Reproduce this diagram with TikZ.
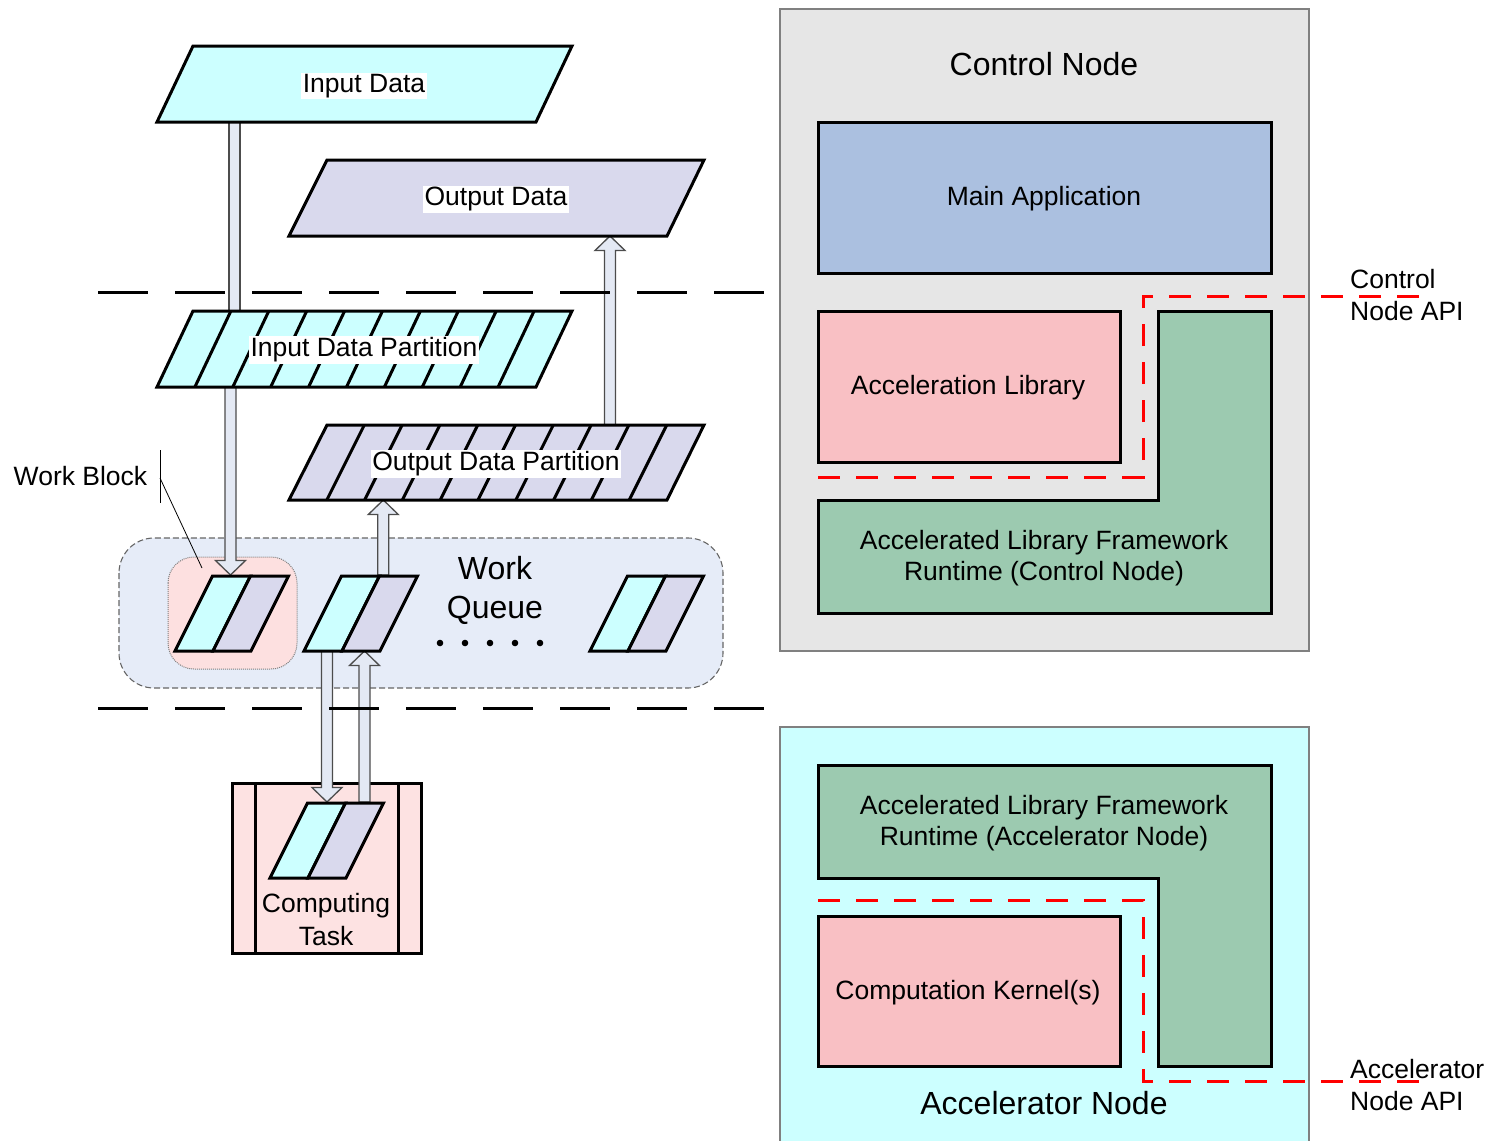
\documentclass[tikz,border=0pt]{standalone}
\usepackage{fontspec}
\setmainfont{Liberation Sans}
\usetikzlibrary{calc}

\definecolor{datacyan}{HTML}{CCFFFF}
\definecolor{datalav}{HTML}{D9D9ED}
\definecolor{queuebg}{HTML}{E6ECF8}
\definecolor{blockpink}{HTML}{FDE0E0}
\definecolor{taskpink}{HTML}{FDE2E2}
\definecolor{ctrlgray}{HTML}{E6E6E6}
\definecolor{appblue}{HTML}{ABC0E0}
\definecolor{libpink}{HTML}{F9C0C4}
\definecolor{rtgreen}{HTML}{9CCAB0}
\definecolor{accelcyan}{HTML}{CCFFFF}
\definecolor{arrowfill}{HTML}{E4E9F4}

\newcommand\normalfnt{\fontsize{26.5}{31}\selectfont}
\newcommand\largefnt{\fontsize{32}{39}\selectfont}

% hollow block arrow between two vertically aligned points
\newcommand\hollowarrow[2]{%
  \filldraw[hollowarr] let \p1=(#1), \p2=(#2), \n1={sign(\y2-\y1)} in
    (\x1-5.5pt,\y1) -- (\x1-5.5pt,\y2-\n1*14.5pt) -- (\x1-15pt,\y2-\n1*14.5pt)
    -- (\x1,\y2) -- (\x1+15pt,\y2-\n1*14.5pt) -- (\x1+5.5pt,\y2-\n1*14.5pt)
    -- (\x1+5.5pt,\y1) -- cycle;}

\tikzset{
  slabline/.style={line width=3pt, line join=miter, draw=black},
  datalabel/.style={fill=white, inner sep=1.5pt, font=\normalfnt},
  plaintext/.style={inner sep=0pt, font=\normalfnt, align=center},
  bigtext/.style={inner sep=0pt, font=\largefnt, align=center},
  hollowarr/.style={fill=arrowfill, draw=black!70, line width=1.3pt, line join=miter},
  layerline/.style={line width=3pt, dash pattern=on 50pt off 27pt},
  apiline/.style={draw=red, line width=3pt, dash pattern=on 22pt off 16pt},
  outerbox/.style={draw=black!50, line width=1.3pt},
  innerbox/.style={draw=black, line width=3pt, line join=miter},
  pics/workitem/.style={code={
    \filldraw[slabline, fill=datacyan] (0,0) -- (38,0) -- (75.5,-75) -- (37.5,-75) -- cycle;
    \filldraw[slabline, fill=datalav] (38,0) -- (76,0) -- (113.5,-75) -- (75.5,-75) -- cycle;
  }},
}

\begin{document}
\begin{tikzpicture}[x=1pt, y=-1pt]
\useasboundingbox (0,0) rectangle (1492,1141);

% ---------------- data flow side ----------------
% work queue and highlighted work block
\draw[draw=black!60, line width=1.1pt, dash pattern=on 6pt off 3pt, fill=queuebg, rounded corners=35pt]
  (119,538) rectangle (723,688);
\draw[draw=black!50, line width=1pt, densely dotted, fill=blockpink, rounded corners=26pt]
  (168,557) rectangle (297,669);

% computing task
\draw[innerbox, fill=taskpink] (232,783) rectangle (421,953);
\draw[line width=3pt] (255,783) -- (255,953) (398,783) -- (398,953);
\node[plaintext, font=\fontsize{26.5}{33}\selectfont] (task) at (326,920) {Computing\\Task};

% anchor points of the transfers
\coordinate (indataS) at (234.5,122);
\coordinate (inpartN) at (234.5,311);
\coordinate (inpartS) at (230.5,387);
\coordinate (blockN)  at (230.5,575);
\coordinate (itemN)   at (383.3,575);
\coordinate (outpartS) at (383.3,500);
\coordinate (outpartN) at (610,425);
\coordinate (outdataS) at (610,236);
\coordinate (itemSa)  at (327,651);
\coordinate (taskNa)  at (327,802);
\coordinate (taskNb)  at (364.5,802);
\coordinate (itemSb)  at (364.5,651);

\filldraw[hollowarr] ($(indataS)+(-5.5,0)$) rectangle ($(inpartN)+(5.5,0)$);
\hollowarrow{inpartS}{blockN}
\hollowarrow{itemN}{outpartS}
\hollowarrow{outpartN}{outdataS}
\hollowarrow{itemSa}{taskNa}
\hollowarrow{taskNb}{itemSb}

% input / output data
\filldraw[slabline, fill=datacyan] (157,122) -- (536,122) -- (572,46) -- (193,46) -- cycle;
\node[datalabel] (indata) at (364,86) {Input Data};
\filldraw[slabline, fill=datalav] (289,236) -- (667,236) -- (704,160) -- (327,160) -- cycle;
\node[datalabel] (outdata) at (496,199) {Output Data};

% partitions
\filldraw[slabline, fill=datacyan] (157,387) -- (536,387) -- (572,311) -- (193,311) -- cycle;
\foreach \i in {1,...,9} \draw[slabline] ({157+\i*37.9},387) -- ++(36,-76);
\node[datalabel] (inpart) at (364,350) {Input Data Partition};
\filldraw[slabline, fill=datalav] (289,500) -- (667,500) -- (704,425) -- (327,425) -- cycle;
\foreach \i in {1,...,9} \draw[slabline] ({289+\i*37.8},500) -- ++(37.5,-75);
\node[datalabel] (outpart) at (496,464) {Output Data Partition};

% work items
\pic (wi1) at (175,651) {workitem};
\pic (wi2) at (304,651) {workitem};
\pic (wi3) at (590,651) {workitem};
\pic (wi4) at (270,878) {workitem};

\node[bigtext] (queue) at (495,590) {Work\\Queue};
\foreach \x in {440,465,490,515,540} \fill (\x,643) circle (3.3);

% work block callout
\node[plaintext] (wblabel) at (80.5,476) {Work Block};
\coordinate (wbtick) at (160,478);
\coordinate (wbtarget) at (202,568);
\draw[line width=0.8pt] (160,450) -- (160,503);
\draw[line width=0.8pt] (wbtick) -- (wbtarget);

% layer separators
\draw[layerline] (98,292) -- (764,292);
\draw[layerline] (98,708) -- (764,708);

% ---------------- control node ----------------
\draw[outerbox, fill=ctrlgray] (780,9) rectangle (1309,651);
\node[bigtext] (ctrl) at (1044,64) {Control Node};
\draw[innerbox, fill=appblue] (818,122) rectangle (1271,273);
\node[plaintext] (mainapp) at (1044,199) {Main Application};
\draw[innerbox, fill=libpink] (818,311) rectangle (1120,462);
\node[plaintext] (acclib) at (968,388) {Acceleration Library};
\draw[innerbox, fill=rtgreen] (1158,311) -- (1271,311) -- (1271,613) -- (818,613) -- (818,500) -- (1158,500) -- cycle;
\node[plaintext] (ctrlrt) at (1044,558) {Accelerated Library Framework\\Runtime (Control Node)};
\draw[apiline] (818,477) -- (1143,477) -- (1143,296) -- (1425,296);
\node[plaintext, align=left, anchor=west, font=\fontsize{26.5}{32}\selectfont] (ctrlapi) at (1350,295) {Control\\Node API};

% ---------------- accelerator node ----------------
\draw[outerbox, fill=accelcyan] (780,727) rectangle (1309,1143);
\draw[innerbox, fill=rtgreen] (818,765) -- (1271,765) -- (1271,1066) -- (1158,1066) -- (1158,878) -- (818,878) -- cycle;
\node[plaintext] (accrt) at (1044,823) {Accelerated Library Framework\\Runtime (Accelerator Node)};
\draw[innerbox, fill=libpink] (818,916) rectangle (1120,1066);
\node[plaintext] (kernel) at (968,993) {Computation Kernel(s)};
\draw[apiline] (818,900) -- (1143,900) -- (1143,1081) -- (1425,1081);
\node[bigtext] (accel) at (1044,1103) {Accelerator Node};
\node[plaintext, align=left, anchor=west, font=\fontsize{26.5}{32}\selectfont] (accapi) at (1350,1085) {Accelerator\\Node API};

\end{tikzpicture}
\end{document}
